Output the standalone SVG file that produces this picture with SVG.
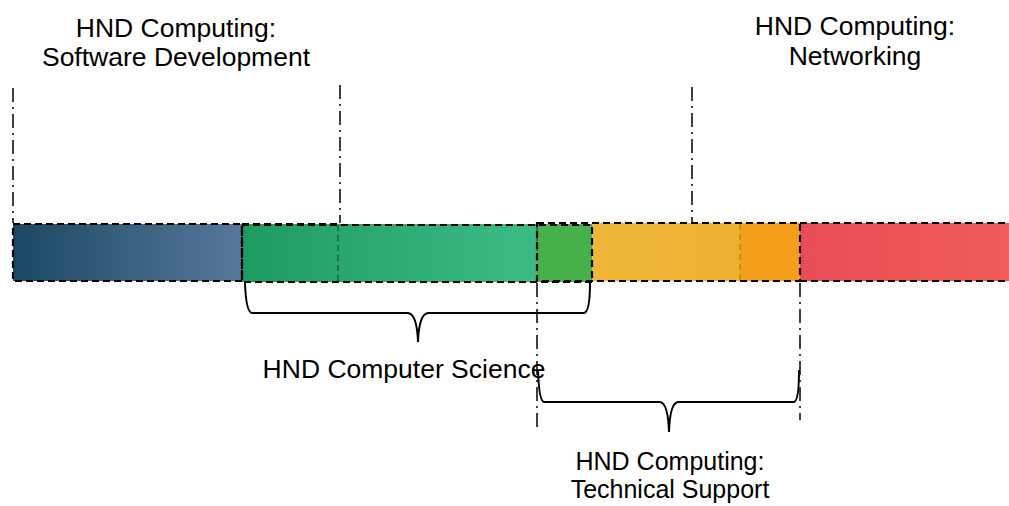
<svg xmlns="http://www.w3.org/2000/svg" width="1009" height="506" viewBox="0 0 1009 506">
<defs>
<linearGradient id="gBlue" x1="0" x2="1" y1="0" y2="0"><stop offset="0" stop-color="#1b4864"/><stop offset="1" stop-color="#56789a"/></linearGradient>
<linearGradient id="gGreen" x1="0" x2="1" y1="0" y2="0"><stop offset="0" stop-color="#1d9b62"/><stop offset="1" stop-color="#3dbb85"/></linearGradient>
<linearGradient id="gYellow" x1="0" x2="1" y1="0" y2="0"><stop offset="0" stop-color="#eeb73a"/><stop offset="1" stop-color="#efb032"/></linearGradient>
<linearGradient id="gRed" x1="0" x2="1" y1="0" y2="0"><stop offset="0" stop-color="#e84d55"/><stop offset="1" stop-color="#f15b5a"/></linearGradient>
<style>
.lbl{font-family:"Liberation Sans",Arial,sans-serif;font-size:26.5px;fill:#000;text-anchor:middle}
.lbs{font-family:"Liberation Sans",Arial,sans-serif;font-size:25px;fill:#000;text-anchor:middle}
.dash{fill:none;stroke:#000;stroke-width:2.2;stroke-dasharray:7,4}
.gdash{fill:none;stroke:#0b6b2e;stroke-width:1.5;stroke-dasharray:6,4}
.ydash{fill:none;stroke:#b98a10;stroke-width:1.5;stroke-dasharray:6,4}
.dd{fill:none;stroke:#000;stroke-width:1.5;stroke-dasharray:14,5,2,5}
.brace{fill:none;stroke:#000;stroke-width:2}
</style>
</defs>
<g id="bar">
<rect x="13" y="224" width="229" height="57" fill="url(#gBlue)"/>
<rect x="242" y="224" width="295" height="58" fill="url(#gGreen)"/>
<rect x="537" y="224" width="55" height="58" fill="#46b14b"/>
<rect x="592" y="223" width="148" height="58" fill="url(#gYellow)"/>
<rect x="740" y="223" width="60" height="58" fill="#f59e1c"/>
<rect x="800" y="223" width="209" height="58" fill="url(#gRed)"/>
<line class="gdash" x1="338" y1="225" x2="338" y2="281"/>
<line class="gdash" x1="537" y1="225" x2="537" y2="281"/>
<line class="ydash" x1="740" y1="224" x2="740" y2="280"/>
<rect class="dash" x="13" y="224" width="229" height="57"/>
<path class="dash" d="M242 224 H341"/>
<rect class="dash" x="242" y="225" width="350" height="57"/>
<rect class="dash" x="537" y="223" width="263" height="58"/>
<path class="dash" d="M800 223 H1010 M800 281 H1010"/>
</g>
<g id="connectors">
<line class="dd" x1="13" y1="88" x2="13" y2="223"/>
<line class="dd" x1="340" y1="85" x2="340" y2="223"/>
<line class="dd" x1="692" y1="87" x2="692" y2="222"/>
<line class="dd" x1="537" y1="283" x2="537" y2="430"/>
<line class="dd" x1="800" y1="283" x2="800" y2="420"/>
<path class="brace" d="M245 283 Q246 312 252 313 L408 313 Q417 314 418 342 Q419 314 428 313 L584 313 Q590 312 590 283"/>
<path class="brace" d="M538 370 Q539 401 544 402 L660 402 Q668 403 669 432 Q670 403 678 402 L794 402 Q799 401 799 370"/>
</g>
<g id="sd"><text class="lbl" x="176" y="37">HND Computing:</text><text class="lbl" x="176" y="66">Software Development</text></g>
<g id="net"><text class="lbl" x="855" y="35">HND Computing:</text><text class="lbl" x="855" y="65">Networking</text></g>
<g id="cs"><text class="lbl" x="404" y="378">HND Computer Science</text></g>
<g id="ts"><text class="lbs" x="670" y="470">HND Computing:</text><text class="lbs" x="670" y="498">Technical Support</text></g>
</svg>
